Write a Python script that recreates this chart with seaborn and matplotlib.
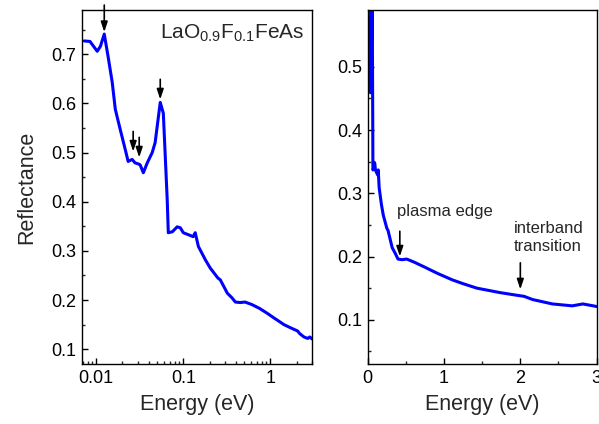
import numpy as np
import pandas as pd
import seaborn as sns
import matplotlib
matplotlib.use("Agg")
import matplotlib.pyplot as plt
from matplotlib.ticker import MultipleLocator, LogLocator, FixedLocator, FixedFormatter, NullFormatter

# Reflectance spectrum
energy = [0.0073, 0.0085, 0.0103, 0.0112, 0.0124, 0.0137, 0.0153, 0.0166, 0.0189, 0.0216,
          0.0233, 0.0259, 0.0280, 0.0304, 0.032, 0.0348, 0.0386, 0.044, 0.0475, 0.0544,
          0.059, 0.0654, 0.0673, 0.075, 0.0851, 0.0925, 0.10, 0.114, 0.130, 0.137,
          0.149, 0.179, 0.204, 0.249, 0.266, 0.32, 0.36, 0.396, 0.45, 0.51,
          0.61, 0.75, 0.92, 1.11, 1.25, 1.43, 1.73, 1.94, 2.05, 2.16,
          2.42, 2.68, 2.82, 3.0]
reflectance = [0.727, 0.726, 0.706, 0.716, 0.741, 0.696, 0.643, 0.588, 0.547, 0.506,
               0.482, 0.486, 0.479, 0.477, 0.475, 0.459, 0.479, 0.50, 0.52, 0.602,
               0.58, 0.404, 0.337, 0.339, 0.349, 0.347, 0.337, 0.333, 0.329, 0.337,
               0.309, 0.282, 0.265, 0.245, 0.241, 0.214, 0.205, 0.196, 0.195, 0.196,
               0.191, 0.183, 0.173, 0.163, 0.157, 0.150, 0.143, 0.139, 0.137, 0.132,
               0.125, 0.122, 0.125, 0.121]

# arrows in the left panel: x, y start, y end
left_arrow_x = [0.0124, 0.0266, 0.0312, 0.0544]
left_arrow_y0 = [0.80, 0.543, 0.531, 0.649]
left_arrow_y1 = [0.745, 0.502, 0.490, 0.608]

df = pd.DataFrame({"Energy": energy, "Reflectance": reflectance})

sns.set_style("ticks")
plt.rcParams["font.family"] = ["Liberation Sans", "DejaVu Sans"]
plt.rcParams["mathtext.fontset"] = "custom"
plt.rcParams["mathtext.rm"] = "Liberation Sans"
plt.rcParams["xtick.direction"] = "in"
plt.rcParams["ytick.direction"] = "in"

fig = plt.figure(figsize=(5.99, 4.24), dpi=100)
ax1 = fig.add_axes([0.137, 0.1415, 0.384, 0.835])
ax2 = fig.add_axes([0.614, 0.1415, 0.382, 0.835])

arrow_style = dict(arrowstyle="-|>,head_length=0.6,head_width=0.2", color="black",
                   lw=1.2, mutation_scale=10, shrinkA=0, shrinkB=0)

for ax in (ax1, ax2):
    sns.lineplot(data=df, x="Energy", y="Reflectance", ax=ax, color="#0000ff",
                 linewidth=2.2, estimator=None, sort=False)
    for s in ax.spines.values():
        s.set_linewidth(1.0)
        s.set_color("black")
    ax.tick_params(which="major", length=4.5, width=1, labelsize=13, colors="black",
                   pad=4)
    ax.tick_params(which="minor", length=2.5, width=1)
    ax.set_xlabel("Energy (eV)", fontsize=15.5, labelpad=5)

# left panel: log energy axis
ax1.set_xscale("log")
ax1.set_xlim(0.0069, 3.0)
ax1.set_ylim(0.07, 0.79)
ax1.xaxis.set_major_locator(FixedLocator([0.01, 0.1, 1]))
ax1.xaxis.set_major_formatter(FixedFormatter(["0.01", "0.1", "1"]))
ax1.xaxis.set_minor_locator(LogLocator(base=10, subs=np.arange(2, 10)))
ax1.xaxis.set_minor_formatter(NullFormatter())
ax1.yaxis.set_major_locator(MultipleLocator(0.1))
ax1.yaxis.set_minor_locator(MultipleLocator(0.05))
ax1.set_ylabel("Reflectance", fontsize=15.5, labelpad=10)
ax1.text(0.338, 0.935, r"LaO$_{0.9}$F$_{0.1}$FeAs", fontsize=15, va="center",
         ha="left", transform=ax1.transAxes)
for x, y0, y1 in zip(left_arrow_x, left_arrow_y0, left_arrow_y1):
    ax1.annotate("", xy=(x, y1), xytext=(x, y0), annotation_clip=False,
                 arrowprops=arrow_style)

# right panel: linear energy axis
ax2.set_xlim(0, 3)
ax2.set_ylim(0.03, 0.59)
ax2.xaxis.set_major_locator(MultipleLocator(1))
ax2.xaxis.set_minor_locator(MultipleLocator(0.5))
ax2.yaxis.set_major_locator(MultipleLocator(0.1))
ax2.yaxis.set_minor_locator(MultipleLocator(0.05))
ax2.set_ylabel("")
ax2.text(0.38, 0.271, "plasma edge", fontsize=12, va="center", ha="left")
ax2.text(1.91, 0.230, "interband\ntransition", fontsize=12, va="center", ha="left",
         linespacing=1.2)
ax2.annotate("", xy=(0.42, 0.20), xytext=(0.42, 0.24), arrowprops=arrow_style)
ax2.annotate("", xy=(2.0, 0.148), xytext=(2.0, 0.19), arrowprops=arrow_style)

fig.savefig("out.png", dpi=100)
